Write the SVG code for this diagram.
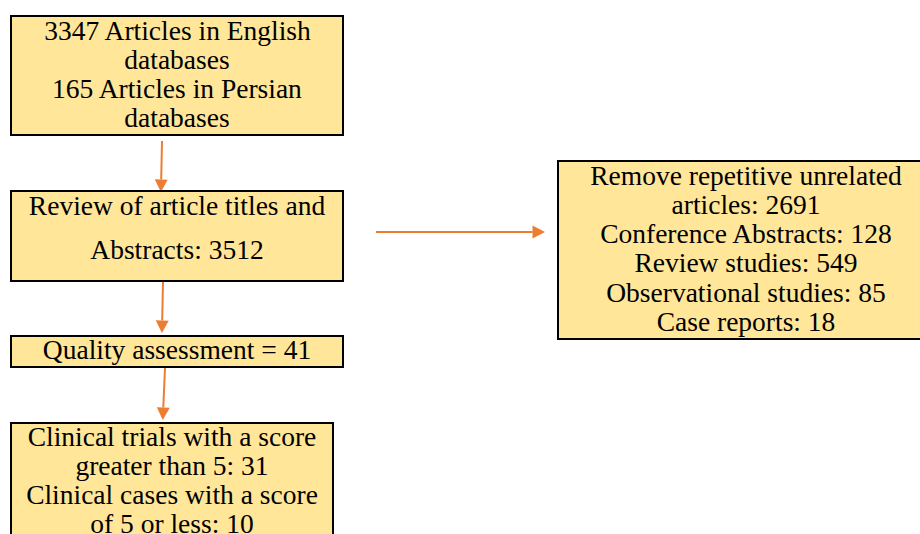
<svg xmlns="http://www.w3.org/2000/svg" width="920" height="534" viewBox="0 0 920 534">
  <defs>
    <marker id="ah" markerUnits="userSpaceOnUse" markerWidth="14" markerHeight="14" viewBox="0 -7 13 14" refX="0" refY="0" orient="auto">
      <path d="M0,-6.5 L12.5,0 L0,6.5 Z" fill="#ED7D31"/>
    </marker>
    <style>
      .box { fill: #FFE699; stroke: #000; stroke-width: 2; }
      .t { font-family: "Liberation Serif", "Times New Roman", serif; font-size: 27.5px; fill: #000; text-anchor: middle; }
      .c { stroke: #ED7D31; stroke-width: 2; fill: none; marker-end: url(#ah); }
    </style>
  </defs>
  <rect width="920" height="534" fill="#fff"/>

  <g id="connectors">
    <line class="c" x1="162" y1="141" x2="161.2" y2="179.5"/>
    <line class="c" x1="163" y1="282" x2="162.2" y2="320.5"/>
    <line class="c" x1="165" y1="368" x2="163.3" y2="407.5"/>
    <line class="c" x1="376" y1="232" x2="532.5" y2="232"/>
  </g>

  <g id="n1">
    <rect class="box" x="11" y="16" width="332" height="119"/>
    <text class="t" x="177.5" y="40">3347 Articles in English</text>
    <text class="t" x="177" y="69">databases</text>
    <text class="t" x="177" y="98">165 Articles in Persian</text>
    <text class="t" x="177" y="127">databases</text>
  </g>

  <g id="n2">
    <rect class="box" x="11" y="191" width="332" height="90"/>
    <text class="t" x="177" y="215">Review of article titles and</text>
    <text class="t" x="177" y="259">Abstracts: 3512</text>
  </g>

  <g id="n3">
    <rect class="box" x="11" y="336" width="332" height="31"/>
    <text class="t" x="177" y="359">Quality assessment = 41</text>
  </g>

  <g id="n4">
    <rect class="box" x="11" y="423" width="322" height="130"/>
    <text class="t" x="172" y="446">Clinical trials with a score</text>
    <text class="t" x="172" y="475">greater than 5: 31</text>
    <text class="t" x="172" y="504">Clinical cases with a score</text>
    <text class="t" x="172" y="533">of 5 or less: 10</text>
  </g>

  <g id="n5">
    <rect class="box" x="558" y="161" width="376" height="178"/>
    <text class="t" x="746" y="185">Remove repetitive unrelated</text>
    <text class="t" x="746" y="214">articles: 2691</text>
    <text class="t" x="746" y="243">Conference Abstracts: 128</text>
    <text class="t" x="746" y="272">Review studies: 549</text>
    <text class="t" x="746" y="302">Observational studies: 85</text>
    <text class="t" x="746" y="331">Case reports: 18</text>
  </g>
</svg>
